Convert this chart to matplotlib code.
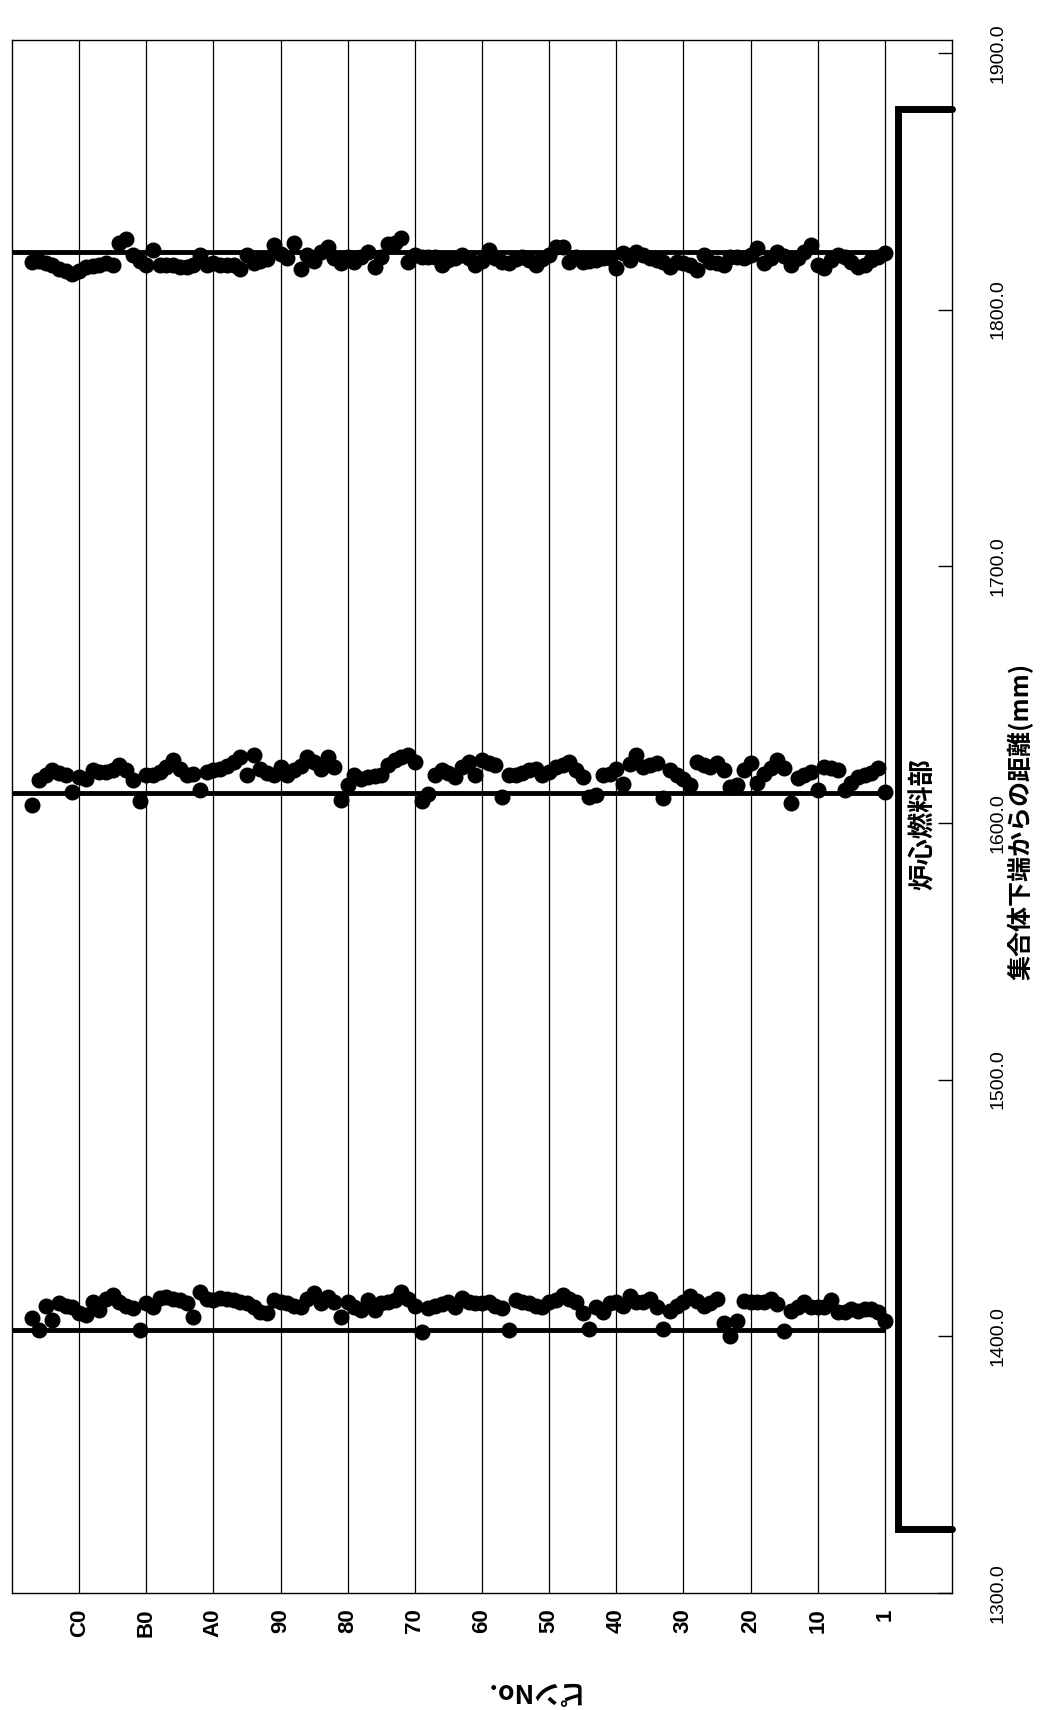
import matplotlib
matplotlib.use('Agg')
import matplotlib.pyplot as plt

# ---------------- data ----------------
pins = list(range(1, 129))

lower_band = [
    1406.0, 1409.5, 1410.5, 1410.5, 1410.0, 1410.5, 1409.5, 1409.3, 1414.0, 1411.5,
    1411.3, 1411.5, 1413.2, 1411.5, 1409.7, 1402.1, 1412.5, 1414.4, 1413.5, 1413.2,
    1413.2, 1413.7, 1406.0, 1400.2, 1405.0, 1414.4, 1413.0, 1411.8, 1413.7, 1415.7,
    1413.2, 1411.8, 1409.7, 1402.8, 1411.3, 1414.4, 1413.5, 1413.2, 1415.7, 1411.8,
    1413.2, 1412.8, 1409.3, 1411.3, 1403.0, 1408.9, 1413.2, 1414.5, 1415.9, 1414.0,
    1413.2, 1411.3, 1412.0, 1412.8, 1413.2, 1414.0, 1402.5, 1410.9, 1412.0, 1413.2,
    1413.0, 1412.8, 1413.5, 1414.8, 1411.3, 1413.2, 1412.5, 1412.0, 1410.9, 1401.7,
    1412.0, 1414.5, 1417.1, 1414.0, 1413.5, 1412.8, 1410.1, 1414.0, 1410.1, 1411.5,
    1413.2, 1407.4, 1413.5, 1415.2, 1412.8, 1416.7, 1414.5, 1411.3, 1412.0, 1412.8,
    1413.3, 1414.0, 1408.9, 1409.5, 1411.3, 1412.8, 1413.5, 1414.0, 1414.5, 1414.8,
    1414.0, 1414.5, 1417.1, 1407.4, 1412.8, 1414.0, 1414.5, 1415.2, 1414.8, 1411.3,
    1412.8, 1402.5, 1410.9, 1412.0, 1413.2, 1416.0, 1414.5, 1410.1, 1413.2, 1408.2,
    1409.0, 1411.3, 1412.0, 1412.8, 1406.2, 1412.0, 1402.5, 1407.0,
]

middle_band = [
    1612.0, 1621.4, 1619.4, 1618.5, 1617.8, 1615.5, 1612.8, 1620.6, 1621.4, 1621.7,
    1612.8, 1619.8, 1618.5, 1617.5, 1607.7, 1621.4, 1624.5, 1621.4, 1619.0, 1615.5,
    1623.3, 1620.6, 1614.7, 1614.0, 1620.6, 1623.3, 1621.7, 1622.5, 1623.7, 1614.7,
    1617.0, 1618.6, 1620.6, 1609.7, 1623.3, 1622.5, 1621.7, 1626.4, 1623.0, 1615.0,
    1621.0, 1619.0, 1618.6, 1610.8, 1610.1, 1617.8, 1620.6, 1623.7, 1622.5, 1621.7,
    1620.0, 1618.6, 1621.0, 1620.6, 1619.5, 1618.6, 1618.6, 1610.1, 1622.5, 1623.5,
    1624.5, 1618.6, 1623.7, 1621.7, 1617.8, 1619.5, 1620.6, 1618.6, 1611.2, 1608.5,
    1623.7, 1626.4, 1625.5, 1624.5, 1622.5, 1618.6, 1618.2, 1617.8, 1617.0, 1618.6,
    1614.7, 1608.9, 1621.7, 1625.6, 1621.0, 1623.7, 1625.6, 1622.0, 1620.6, 1618.6,
    1621.7, 1618.6, 1619.5, 1621.0, 1626.4, 1618.6, 1625.6, 1623.7, 1622.0, 1621.0,
    1620.6, 1619.8, 1612.8, 1619.0, 1618.6, 1621.0, 1624.5, 1621.7, 1620.0, 1618.6,
    1618.6, 1608.5, 1616.7, 1620.6, 1622.5, 1620.5, 1619.8, 1619.8, 1620.6, 1617.0,
    1617.8, 1612.0, 1618.6, 1619.5, 1620.6, 1618.6, 1616.7, 1607.0,
]

upper_band = [
    1822.0, 1820.5, 1819.3, 1817.3, 1816.7, 1818.5, 1820.5, 1821.2, 1819.3, 1816.1,
    1817.3, 1825.1, 1822.5, 1819.9, 1817.3, 1821.0, 1822.5, 1819.9, 1818.1, 1823.9,
    1821.2, 1819.9, 1820.5, 1820.5, 1817.3, 1818.0, 1818.6, 1821.2, 1815.5, 1817.3,
    1818.0, 1818.6, 1816.7, 1818.6, 1819.3, 1819.9, 1821.2, 1822.5, 1819.3, 1822.0,
    1816.1, 1819.9, 1819.9, 1819.3, 1819.0, 1818.6, 1820.5, 1818.6, 1824.3, 1824.3,
    1821.2, 1819.5, 1817.3, 1819.3, 1820.5, 1819.5, 1818.1, 1818.6, 1819.9, 1823.1,
    1819.0, 1817.3, 1819.9, 1821.2, 1820.0, 1819.3, 1817.3, 1820.5, 1820.5, 1820.5,
    1821.2, 1818.6, 1827.8, 1825.8, 1825.5, 1820.5, 1816.7, 1822.5, 1820.5, 1818.6,
    1820.5, 1818.1, 1819.9, 1824.3, 1822.5, 1819.1, 1821.4, 1815.6, 1826.1, 1820.2,
    1821.5, 1825.3, 1819.5, 1819.0, 1818.3, 1821.4, 1815.6, 1817.5, 1817.5, 1817.2,
    1818.3, 1817.5, 1821.1, 1817.2, 1816.7, 1816.4, 1817.2, 1817.5, 1817.5, 1823.0,
    1817.5, 1819.1, 1821.4, 1827.3, 1826.1, 1817.5, 1818.3, 1817.2, 1817.0, 1816.4,
    1815.2, 1813.7, 1815.0, 1815.6, 1817.2, 1818.3, 1819.0, 1818.5,
]

design_positions = [1402.5, 1611.8, 1822.5]
core_fuel_range = [1325.0, 1878.0]

pin_tick_positions = [1, 11, 21, 31, 41, 51, 61, 71, 81, 91, 101, 111, 121]
pin_tick_labels = ['1', '10', '20', '30', '40', '50', '60', '70', '80', '90',
                   'A0', 'B0', 'C0']
dist_ticks = [1300, 1400, 1500, 1600, 1700, 1800, 1900]

x_label = 'ピンNo.'
y_label = '集合体下端からの距離(mm)'
region_label = '炉心燃料部'

# ---------------- figure ----------------
W, H = 1043, 1710
fig = plt.figure(figsize=(W / 100, H / 100), dpi=100)


def fx(px):
    return px / W


def fy(py):
    return 1 - py / H


jp = ['Noto Sans CJK JP', 'DejaVu Sans']
num_narrow = ['Liberation Sans Narrow', 'Liberation Sans', 'DejaVu Sans']
num = ['Liberation Sans', 'DejaVu Sans']

ax = fig.add_axes([fx(12), fy(1593), fx(952) - fx(12), fy(40) - fy(1593)])
ax.set_xlim(131, -9)
ax.set_ylim(1300, 1905)

for s in ax.spines.values():
    s.set_color('black')
    s.set_linewidth(1.0)

# grid (pin direction only)
ax.set_xticks(pin_tick_positions)
ax.set_xticklabels(pin_tick_labels, rotation=90, family=num, fontsize=16,
                   fontweight='bold')
ax.tick_params(axis='x', length=0, pad=11)
ax.grid(axis='x', color='black', linewidth=0.9)
ax.set_axisbelow(True)

ax.yaxis.tick_right()
ax.set_yticks(dist_ticks)
ax.set_yticklabels([f'{v:.1f}' for v in dist_ticks], rotation=90,
                   family=num_narrow, fontsize=14)
ax.tick_params(axis='y', direction='in', length=10, width=1.0, pad=27)
for lbl in ax.get_yticklabels():
    lbl.set_va('center')

# design reference lines
for d in design_positions:
    ax.plot([131, 1], [d, d], color='black', linewidth=3.5, zorder=3,
            solid_capstyle='butt', clip_on=False)

# measured positions
for band in (lower_band, middle_band, upper_band):
    ax.plot(pins, band, linestyle='none', marker='o', markersize=10.5,
            color='black', zorder=4)

# core fuel region bracket
bx = -1
ax.plot([-9, bx, bx, -9],
        [core_fuel_range[1], core_fuel_range[1], core_fuel_range[0], core_fuel_range[0]],
        color='black', linewidth=5, solid_joinstyle='miter',
        solid_capstyle='round', zorder=5, clip_on=False)

fig.text(fx(923), fy(824), region_label, rotation=90, ha='center', va='center',
         family=jp, fontsize=19, fontweight='bold')

fig.text(fx(1021), fy(821), y_label, rotation=90, ha='center', va='center',
         family=jp, fontsize=18, fontweight='bold')

fig.text(fx(529), fy(1691), x_label, rotation=180, ha='center', va='center',
         family=jp, fontsize=19, fontweight='bold')

fig.savefig('out.png', dpi=100, facecolor='white')
